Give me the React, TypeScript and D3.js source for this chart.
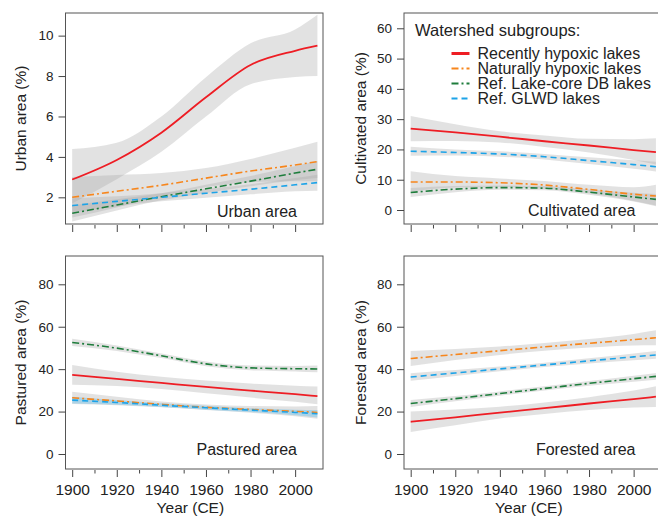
import React, { useRef, useEffect } from 'react';
import * as d3 from 'd3';

// years of the smoothed fits
const years = [1900, 1920, 1940, 1960, 1980, 2000, 2010];

const groupNames = [
  'Recently hypoxic lakes',
  'Naturally hypoxic lakes',
  'Ref. Lake-core DB lakes',
  'Ref. GLWD lakes',
];

// order of rows: recently hypoxic, naturally hypoxic, lake-core DB, GLWD
const urbanMid = [
  [2.88, 3.85, 5.2, 6.95, 8.55, 9.25, 9.5],
  [2.0, 2.3, 2.6, 2.95, 3.3, 3.6, 3.77],
  [1.21, 1.62, 2.03, 2.42, 2.8, 3.2, 3.39],
  [1.59, 1.8, 2.0, 2.2, 2.4, 2.62, 2.73],
];
const urbanLo = [
  [1.7, 2.9, 4.25, 6.0, 7.6, 7.95, 8.0],
  [1.0, 1.5, 2.05, 2.5, 2.75, 2.8, 2.8],
  [0.8, 1.35, 1.85, 2.22, 2.55, 2.85, 2.95],
  [1.25, 1.55, 1.8, 1.98, 2.15, 2.3, 2.32],
];
const urbanHi = [
  [4.39, 4.7, 6.0, 7.94, 9.62, 10.3, 11.03],
  [3.0, 3.1, 3.2, 3.45, 3.9, 4.45, 4.75],
  [1.6, 1.9, 2.2, 2.62, 3.05, 3.55, 3.8],
  [1.95, 2.05, 2.2, 2.42, 2.65, 2.95, 3.12],
];

const cultivatedMid = [
  [26.9, 25.6, 24.2, 22.7, 21.3, 19.8, 19.1],
  [9.25, 9.25, 9.0, 8.25, 6.8, 5.2, 4.6],
  [5.8, 6.9, 7.4, 7.2, 5.9, 4.3, 3.5],
  [19.4, 19.0, 18.5, 17.6, 16.3, 15.0, 14.3],
];
const cultivatedLo = [
  [22.7, 22.8, 22.3, 20.8, 19.0, 16.5, 15.0],
  [6.0, 7.4, 7.6, 7.0, 5.5, 3.0, 1.5],
  [4.3, 5.9, 6.7, 6.5, 5.0, 2.8, 1.2],
  [17.9, 18.0, 17.6, 16.7, 15.2, 13.6, 12.7],
];
const cultivatedHi = [
  [31.0, 28.3, 26.0, 24.6, 23.5, 23.4, 23.7],
  [12.8, 11.2, 10.4, 9.6, 8.3, 7.5, 8.3],
  [7.3, 7.9, 8.1, 7.9, 6.8, 5.7, 5.3],
  [20.9, 20.0, 19.4, 18.5, 17.4, 16.4, 15.9],
];

const pasturedMid = [
  [37.3, 35.4, 33.5, 31.6, 29.9, 28.2, 27.3],
  [26.5, 25.0, 23.4, 22.0, 21.0, 20.1, 19.6],
  [52.6, 49.9, 46.3, 42.5, 40.6, 40.2, 40.1],
  [25.4, 24.3, 23.0, 21.8, 20.7, 19.6, 19.0],
];
const pasturedLo = [
  [32.6, 32.0, 30.6, 28.6, 26.6, 24.6, 23.5],
  [23.6, 23.0, 22.0, 20.7, 19.4, 17.8, 16.6],
  [50.9, 48.6, 45.2, 41.4, 39.5, 38.9, 38.5],
  [23.8, 23.2, 22.1, 20.9, 19.8, 18.3, 17.2],
];
const pasturedHi = [
  [42.0, 38.8, 36.4, 34.6, 33.2, 32.2, 31.8],
  [29.4, 27.0, 24.8, 23.3, 22.6, 22.4, 22.6],
  [54.3, 51.2, 47.4, 43.6, 41.7, 41.5, 41.7],
  [27.0, 25.4, 23.9, 22.7, 21.6, 20.9, 20.8],
];

const forestedMid = [
  [15.2, 17.3, 19.5, 21.6, 23.8, 25.9, 27.0],
  [45.0, 46.9, 48.7, 50.5, 52.2, 53.9, 54.8],
  [23.8, 26.1, 28.5, 30.9, 33.3, 35.5, 36.6],
  [36.3, 38.2, 40.1, 42.0, 43.9, 45.8, 46.7],
];
const forestedLo = [
  [10.4, 13.6, 16.7, 18.9, 20.8, 21.9, 22.1],
  [41.5, 44.3, 46.7, 48.7, 50.2, 51.2, 51.3],
  [22.2, 24.9, 27.5, 29.9, 32.2, 34.1, 35.0],
  [34.5, 36.8, 39.0, 41.0, 42.7, 44.2, 44.9],
];
const forestedHi = [
  [20.0, 21.0, 22.3, 24.3, 26.8, 29.9, 31.9],
  [48.5, 49.5, 50.7, 52.3, 54.2, 56.6, 58.3],
  [25.4, 27.3, 29.5, 31.9, 34.4, 36.9, 38.2],
  [38.1, 39.6, 41.2, 43.0, 45.1, 47.4, 48.5],
];

const urbanTicks = [2, 4, 6, 8, 10];
const cultivatedTicks = [0, 10, 20, 30, 40, 50, 60];
const areaTicks = [0, 20, 40, 60, 80];
const yearTicks = [1900, 1920, 1940, 1960, 1980, 2000];
const yearMinorTicks = [1910, 1930, 1950, 1970, 1990];

const FONT = '"Liberation Sans", Arial, Helvetica, sans-serif';

const lineStyles = [
  { color: '#ee1d24', width: 1.8, dash: null, legendWidth: 3 },
  { color: '#f7861c', width: 1.6, dash: '7,3,2,3', legendWidth: 2 },
  { color: '#1e7d3c', width: 1.6, dash: '7,3,2,3', legendWidth: 2 },
  { color: '#1ca3e8', width: 1.6, dash: '6,4', legendWidth: 2 },
];

const panels = [
  {
    id: 'urban', label: 'Urban area', ylab: 'Urban area (%)',
    mid: urbanMid, lo: urbanLo, hi: urbanHi, ticks: urbanTicks,
    yDomain: [0.68, 11.12],
    box: { x0: 65.5, x1: 323, y0: 13, y1: 224 },
    labelY: 217, ylabX: 21, xLabels: false, blueBand: false,
  },
  {
    id: 'cult', label: 'Cultivated area', ylab: 'Cultivated area (%)',
    mid: cultivatedMid, lo: cultivatedLo, hi: cultivatedHi, ticks: cultivatedTicks,
    yDomain: [-4.62, 65.05],
    box: { x0: 404, x1: 661.5, y0: 13, y1: 224 },
    labelY: 216, ylabX: 361, xLabels: false, blueBand: false,
  },
  {
    id: 'past', label: 'Pastured area', ylab: 'Pastured area (%)',
    mid: pasturedMid, lo: pasturedLo, hi: pasturedHi, ticks: areaTicks,
    yDomain: [-7.07, 93.34],
    box: { x0: 65.5, x1: 323, y0: 256, y1: 469 },
    labelY: 455, ylabX: 21, xLabels: true, blueBand: true,
  },
  {
    id: 'forest', label: 'Forested area', ylab: 'Forested area (%)',
    mid: forestedMid, lo: forestedLo, hi: forestedHi, ticks: areaTicks,
    yDomain: [-7.07, 93.34],
    box: { x0: 404, x1: 661.5, y0: 256, y1: 469 },
    labelY: 455, ylabX: 361, xLabels: true, blueBand: false,
  },
];

function LandUseFigure() {
  const svgRef = useRef<SVGSVGElement>(null);

  useEffect(() => {
    const svg = d3.select(svgRef.current);
    svg.selectAll('*').remove();

    panels.forEach(p => {
      const { box } = p;
      const x = d3.scaleLinear().domain([1897, 2012.5]).range([box.x0, box.x1]);
      const y = d3.scaleLinear().domain(p.yDomain).range([box.y1, box.y0]);
      const g = svg.append('g');

      g.append('clipPath').attr('id', `clip-${p.id}`)
        .append('rect')
        .attr('x', box.x0).attr('y', box.y0)
        .attr('width', box.x1 - box.x0).attr('height', box.y1 - box.y0);

      const plot = g.append('g').attr('clip-path', `url(#clip-${p.id})`);

      const area = d3.area<number>()
        .x((_, i) => x(years[i]))
        .curve(d3.curveMonotoneX);

      // confidence bands
      p.mid.forEach((_, s) => {
        const isBlue = p.blueBand && s === 3;
        plot.append('path')
          .attr('d', area.y0((_, i) => y(p.lo[s][i])).y1((_, i) => y(p.hi[s][i]))(years))
          .attr('fill', isBlue ? '#6cc0ec' : '#a8a8a8')
          .attr('fill-opacity', isBlue ? 0.45 : 0.33);
      });

      const line = d3.line<number>()
        .x((_, i) => x(years[i]))
        .y(d => y(d))
        .curve(d3.curveMonotoneX);

      p.mid.forEach((vals, s) => {
        const st = lineStyles[s];
        plot.append('path')
          .attr('d', line(vals))
          .attr('fill', 'none')
          .attr('stroke', st.color)
          .attr('stroke-width', st.width)
          .attr('stroke-dasharray', st.dash);
      });

      // box
      g.append('rect')
        .attr('x', box.x0).attr('y', box.y0)
        .attr('width', box.x1 - box.x0).attr('height', box.y1 - box.y0)
        .attr('fill', 'none').attr('stroke', '#555').attr('stroke-width', 1);

      // y axis
      const ya = g.append('g')
        .attr('transform', `translate(${box.x0},0)`)
        .call(d3.axisLeft(y).tickValues(p.ticks).tickSize(7).tickPadding(5).tickFormat(d3.format('d')));
      ya.select('.domain').remove();
      ya.selectAll('line').attr('stroke', '#444');
      ya.selectAll('text').attr('font-size', 13.5).attr('font-family', FONT).attr('fill', '#222');

      // x axis: major and minor ticks
      const xa = g.append('g')
        .attr('transform', `translate(0,${box.y1 + 1})`)
        .call(d3.axisBottom(x).tickValues(yearTicks).tickSize(7).tickPadding(7)
          .tickFormat(p.xLabels ? d3.format('d') : () => ''));
      xa.select('.domain').remove();
      xa.selectAll('line').attr('stroke', '#444');
      xa.selectAll('text').attr('font-size', 15.5).attr('font-family', FONT).attr('fill', '#222');

      const xm = g.append('g')
        .attr('transform', `translate(0,${box.y1 + 1})`)
        .call(d3.axisBottom(x).tickValues(yearMinorTicks).tickSize(3.5).tickFormat(() => ''));
      xm.select('.domain').remove();
      xm.selectAll('line').attr('stroke', '#444');

      // labels
      g.append('text')
        .attr('transform', `translate(${p.ylabX},${(box.y0 + box.y1) / 2}) rotate(-90)`)
        .attr('text-anchor', 'middle')
        .attr('dy', '0.35em')
        .attr('font-family', FONT).attr('font-size', 15.5).attr('fill', '#222')
        .text(p.ylab);

      g.append('text')
        .attr('x', box.x1 - 26).attr('y', p.labelY)
        .attr('text-anchor', 'end')
        .attr('font-family', FONT).attr('font-size', 16).attr('fill', '#222')
        .text(p.label);

      if (p.xLabels) {
        g.append('text')
          .attr('x', x(1953)).attr('y', 513)
          .attr('text-anchor', 'middle')
          .attr('font-family', FONT).attr('font-size', 15.5).attr('fill', '#222')
          .text('Year (CE)');
      }
    });

    // legend
    const lg = svg.append('g').attr('font-family', FONT).attr('fill', '#222');
    lg.append('text').attr('x', 415).attr('y', 36).attr('font-size', 16.5).text('Watershed subgroups:');
    groupNames.forEach((name, i) => {
      const st = lineStyles[i];
      const yy = 59 + i * 15;
      lg.append('line')
        .attr('x1', 451.5).attr('x2', 469.5).attr('y1', yy - 5.5).attr('y2', yy - 5.5)
        .attr('stroke', st.color).attr('stroke-width', st.legendWidth)
        .attr('stroke-dasharray', st.dash);
      lg.append('text').attr('x', 477.5).attr('y', yy).attr('font-size', 16).text(name);
    });
  }, []);

  return (
    <svg
      ref={svgRef}
      width={658}
      height={516}
      style={{ position: 'absolute', left: 0, top: 0, background: '#fff' }}
    />
  );
}

export default function App() {
  return <LandUseFigure />;
}
